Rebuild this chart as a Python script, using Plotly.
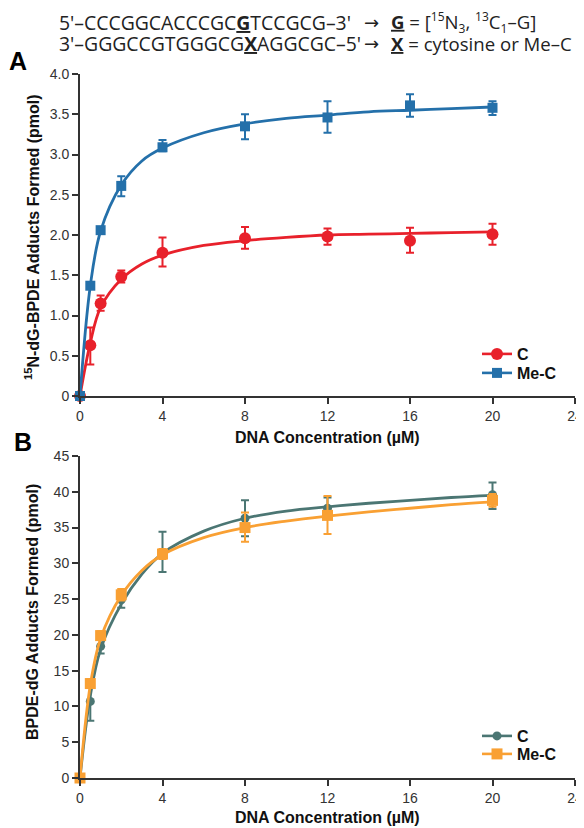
import plotly.graph_objects as go

# ---------------- data ----------------
conc = [0, 0.5, 1, 2, 4, 8, 12, 16, 20]

# Panel A: 15N-dG-BPDE adducts (pmol)
a_c_mean = [0, 0.63, 1.15, 1.48, 1.78, 1.96, 1.98, 1.93, 2.01]
a_c_up = [0, 0.22, 0.10, 0.08, 0.19, 0.14, 0.10, 0.16, 0.13]
a_c_dn = [0, 0.24, 0.09, 0.07, 0.17, 0.13, 0.10, 0.15, 0.13]
a_me_mean = [0, 1.37, 2.06, 2.61, 3.09, 3.35, 3.46, 3.61, 3.58]
a_me_up = [0, 0.0, 0.04, 0.12, 0.09, 0.15, 0.20, 0.14, 0.08]
a_me_dn = [0, 0.0, 0.04, 0.13, 0.05, 0.16, 0.19, 0.14, 0.09]

# Panel B: BPDE-dG adducts (pmol)
conc_b = [0, 0.5, 1, 2, 4, 8, 12, 20]
b_c_mean = [0, 10.7, 18.4, 24.9, 31.2, 36.3, 37.7, 39.6]
b_c_up = [0, 2.2, 1.0, 1.0, 3.2, 2.5, 1.5, 1.7]
b_c_dn = [0, 2.7, 1.0, 1.1, 2.4, 2.5, 1.5, 2.0]
b_me_mean = [0, 13.2, 19.9, 25.6, 31.3, 35.0, 36.7, 38.8]
b_me_up = [0, 0.6, 0.6, 0.8, 0.7, 2.1, 2.7, 0.9]
b_me_dn = [0, 0.6, 0.6, 0.8, 0.7, 2.0, 2.6, 0.9]

# fitted curves
fit_x = [0, 0.5, 1, 2, 3, 4, 6, 8, 10, 12, 14, 16, 18, 20]
a_c_fit = [0, 0.66, 1.10, 1.45, 1.64, 1.75, 1.87, 1.93, 1.97, 2.00, 2.01, 2.02, 2.03, 2.04]
a_me_fit = [0, 1.37, 2.05, 2.62, 2.92, 3.08, 3.27, 3.38, 3.45, 3.49, 3.53, 3.55, 3.57, 3.59]
b_c_fit = [0, 11.5, 18.0, 24.3, 28.5, 31.4, 34.5, 36.3, 37.3, 37.9, 38.4, 38.8, 39.2, 39.5]
b_me_fit = [0, 13.0, 19.5, 25.5, 29.0, 31.2, 33.6, 35.0, 35.9, 36.6, 37.2, 37.7, 38.2, 38.6]

x_ticks = [0, 4, 8, 12, 16, 20, 24]
a_y_ticks = [0, 0.5, 1.0, 1.5, 2.0, 2.5, 3.0, 3.5, 4.0]
a_y_text = ["0", "0.5", "1.0", "1.5", "2.0", "2.5", "3.0", "3.5", "4.0"]
b_y_ticks = [0, 5, 10, 15, 20, 25, 30, 35, 40, 45]

RED = "#E8212B"
BLUE = "#2470AA"
TEAL = "#4B7673"
ORANGE = "#F9A033"
AX = "#333333"

# the page body adds an 8px offset; positions below are given in window pixels
OFF = 8
W, H = 590, 820
fig = go.Figure()


def px_x(p):
    return (p - OFF) / W


def px_y(p):
    return 1 - (p - OFF) / H


def add_series(x, y, up, dn, fx, fy, color, symbol, size, name, xa, ya, legend):
    fig.add_trace(go.Scatter(
        x=fx, y=fy, mode="lines", line=dict(color=color, width=2.8, shape="spline", smoothing=1.0),
        xaxis=xa, yaxis=ya, showlegend=False, hoverinfo="skip", cliponaxis=False))
    fig.add_trace(go.Scatter(
        x=x, y=y, mode="markers",
        marker=dict(color=color, symbol=symbol, size=size, line=dict(width=0)),
        error_y=dict(type="data", array=up, arrayminus=dn, color=color, thickness=2, width=4, visible=True),
        xaxis=xa, yaxis=ya, showlegend=False, cliponaxis=False))
    fig.add_trace(go.Scatter(
        x=[None], y=[None], mode="lines+markers", name=name,
        line=dict(color=color, width=2.6),
        marker=dict(color=color, symbol=symbol, size=size),
        xaxis=xa, yaxis=ya, legend=legend))


add_series(conc, a_c_mean, a_c_up, a_c_dn, fit_x, a_c_fit, RED, "circle", 12, "<b>C</b>", "x", "y", "legend")
add_series(conc, a_me_mean, a_me_up, a_me_dn, fit_x, a_me_fit, BLUE, "square", 10, "<b>Me-C</b>", "x", "y", "legend2")
add_series(conc_b, b_c_mean, b_c_up, b_c_dn, fit_x, b_c_fit, TEAL, "circle", 9, "<b>C</b>", "x2", "y2", "legend3")
add_series(conc_b, b_me_mean, b_me_up, b_me_dn, fit_x, b_me_fit, ORANGE, "square", 11, "<b>Me-C</b>", "x2", "y2", "legend4")

x_left, x_right = 80, 575
a_top, a_bot = 74, 396
b_top, b_bot = 456, 778

axis_common = dict(showgrid=False, zeroline=False, showline=True, linecolor=AX, linewidth=2,
                   ticks="outside", ticklen=6, tickwidth=1.5, tickcolor=AX, automargin=False,
                   ticklabeloverflow="allow",
                   tickfont=dict(family="Liberation Sans, Arial", size=14, color="#333"))

leg_font = dict(family="Liberation Sans, Arial", size=16, color="#111")


def leg(top):
    return dict(x=px_x(477), y=px_y(top), xanchor="left", yanchor="top", bgcolor="rgba(0,0,0,0)",
                font=leg_font, itemwidth=30)


fig.update_layout(
    width=W, height=H, paper_bgcolor="white", plot_bgcolor="white",
    margin=dict(l=0, r=0, t=0, b=0),
    xaxis=dict(domain=[px_x(x_left), px_x(x_right)], range=[0, 24], tickvals=x_ticks, anchor="y", **axis_common),
    yaxis=dict(domain=[px_y(a_bot), px_y(a_top)], range=[0, 4.0], tickvals=a_y_ticks, ticktext=a_y_text,
               anchor="x", **axis_common),
    xaxis2=dict(domain=[px_x(x_left), px_x(x_right)], range=[0, 24], tickvals=x_ticks, anchor="y2", **axis_common),
    yaxis2=dict(domain=[px_y(b_bot), px_y(b_top)], range=[0, 45], tickvals=b_y_ticks, anchor="x2", **axis_common),
    legend=leg(337), legend2=leg(356), legend3=leg(719), legend4=leg(737),
)

title_font = dict(family="Liberation Sans, Arial", size=16, color="#111")
cx = (x_left + x_right) / 2
for ty in (437, 817):
    fig.add_annotation(xref="paper", yref="paper", x=px_x(cx), y=px_y(ty), xanchor="center", yanchor="middle",
                       showarrow=False, font=title_font, text="<b>DNA Concentration (µM)</b>")
fig.add_annotation(xref="paper", yref="paper", x=px_x(32), y=px_y(237), xanchor="center", yanchor="middle",
                   textangle=-90, showarrow=False, font=title_font,
                   text="<b><sup>15</sup>N-dG-BPDE Adducts Formed (pmol)</b>")
fig.add_annotation(xref="paper", yref="paper", x=px_x(32), y=px_y(612), xanchor="center", yanchor="middle",
                   textangle=-90, showarrow=False, font=title_font,
                   text="<b>BPDE-dG Adducts Formed (pmol)</b>")

seq_font = dict(family="Open Sans, Noto Sans", size=19.4, color="#222")
arr_font = dict(family="DejaVu Sans", size=18, color="#222")
rhs_font = dict(family="Open Sans, Noto Sans", size=18.6, color="#222")
small = "<span style='font-size:12px'>{}</span>"
for ly, seq, rhs in (
    (22, "5'–CCCGGCACCCGC<u><b>G</b></u>TCCGCG–3'",
     "<u><b>G</b></u> = [<sup>" + small.format("15") + "</sup>N<sub>" + small.format("3") + "</sub>, <sup>"
     + small.format("13") + "</sup>C<sub>" + small.format("1") + "</sub>–G]"),
    (43, "3'–GGGCCGTGGGCG<u><b>X</b></u>AGGCGC–5'", "<u><b>X</b></u> = cytosine or Me–C"),
):
    fig.add_annotation(xref="paper", yref="paper", x=px_x(57), y=px_y(ly), xanchor="left", yanchor="middle",
                       showarrow=False, font=seq_font, text=seq)
    fig.add_annotation(xref="paper", yref="paper", x=px_x(371), y=px_y(ly), xanchor="center", yanchor="middle",
                       showarrow=False, font=arr_font, text="→")
    fig.add_annotation(xref="paper", yref="paper", x=px_x(389), y=px_y(ly), xanchor="left", yanchor="middle",
                       showarrow=False, font=rhs_font, text=rhs)

panel_font = dict(family="Liberation Sans, Arial", size=25, color="#000")
fig.add_annotation(xref="paper", yref="paper", x=px_x(18), y=px_y(61), xanchor="center", yanchor="middle",
                   showarrow=False, font=panel_font, text="<b>A</b>")
fig.add_annotation(xref="paper", yref="paper", x=px_x(23), y=px_y(442), xanchor="center", yanchor="middle",
                   showarrow=False, font=panel_font, text="<b>B</b>")

fig.write_html("out.html")
